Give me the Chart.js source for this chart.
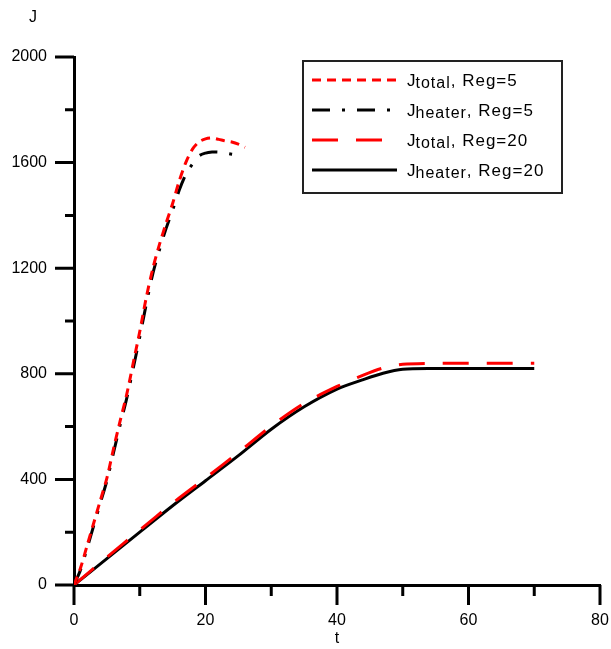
<!DOCTYPE html>
<html>
<head>
<meta charset="utf-8">
<script src="https://cdn.jsdelivr.net/npm/chart.js@4"></script>
<style>
  body { margin: 0; background: #fff; }
  #wrap { width: 611px; height: 649px; }
</style>
</head>
<body>
<div id="wrap"><canvas id="chart" width="611" height="649"></canvas></div>
<script>
// Reg=5 curves
const tTotal5 = [0, 1, 2, 3, 4, 5, 6, 7, 8, 9, 10, 11, 12, 13, 14, 15, 16, 17, 18, 19, 20, 21, 22, 23, 24, 25, 26];
const jTotal5 = [0, 65, 150, 235, 320, 405, 515, 620, 720, 840, 960, 1090, 1200, 1290, 1370, 1445, 1530, 1600, 1650, 1678, 1690, 1693, 1688, 1682, 1678, 1670, 1658];
const tHeater5 = [0, 1, 2, 3, 4, 5, 6, 7, 8, 9, 10, 11, 12, 13, 14, 15, 16, 17, 17.6, 19, 20, 21, 22, 23, 24, 25, 25.6];
const jHeater5 = [0, 58, 140, 225, 310, 395, 500, 605, 705, 820, 940, 1065, 1180, 1270, 1350, 1420, 1495, 1555, 1580, 1625, 1636, 1640, 1640, 1636, 1632, 1628, 1622];
// Reg=20 curves
const tTotal20 = [0, 5, 10, 15, 20, 25, 30, 35, 40, 44, 47, 50, 55, 60, 65, 70];
const jTotal20 = [0, 105, 208, 310, 405, 502, 602, 688, 752, 795, 822, 836, 840, 840, 840, 840];
const tHeater20 = [0, 5, 10, 15, 20, 25, 30, 35, 40, 44, 47, 50, 55, 60, 65, 70];
const jHeater20 = [0, 100, 200, 300, 395, 490, 590, 675, 742, 778, 802, 817, 820, 820, 820, 820];

const xTicks = [0, 20, 40, 60, 80];
const yTicks = [0, 400, 800, 1200, 1600, 2000];

const pts = (ts, js) => ts.map((t, i) => ({ x: t, y: js[i] }));

const series = [
  { sub: 'total', reg: '5', color: '#ff0000', dash: [9, 6], data: pts(tTotal5, jTotal5) },
  { sub: 'heater', reg: '5', color: '#000000', dash: [18, 12, 3, 12], data: pts(tHeater5, jHeater5) },
  { sub: 'total', reg: '20', color: '#ff0000', dash: [26, 18], data: pts(tTotal20, jTotal20) },
  { sub: 'heater', reg: '20', color: '#000000', dash: [], data: pts(tHeater20, jHeater20) },
];

const FONT = '"Liberation Sans", Arial, sans-serif';

// ticks, axis names and the boxed legend
const decor = {
  id: 'decor',
  afterDraw(chart) {
    const ctx = chart.ctx;
    const xs = chart.scales.x, ys = chart.scales.y;
    const x0 = xs.getPixelForValue(0), y0 = ys.getPixelForValue(0);
    ctx.save();
    ctx.strokeStyle = '#000';
    ctx.lineWidth = 3;
    ctx.lineCap = 'butt';
    ctx.beginPath();
    for (let v = 0; v <= 2000; v += 200) {
      const y = ys.getPixelForValue(v);
      const len = v % 400 === 0 ? 19 : 9;
      ctx.moveTo(x0 - len, y);
      ctx.lineTo(x0, y);
    }
    for (let v = 0; v <= 80; v += 10) {
      const x = xs.getPixelForValue(v);
      const len = v % 20 === 0 ? 20 : 11;
      ctx.moveTo(x, y0);
      ctx.lineTo(x, y0 + len);
    }
    ctx.stroke();

    ctx.fillStyle = '#000';
    ctx.font = '16px ' + FONT;
    ctx.textAlign = 'center';
    ctx.textBaseline = 'middle';
    ctx.fillText('J', 33, 18);
    ctx.fillText('t', xs.getPixelForValue(40), 639);

    // legend
    const bx = 303, by = 61, bw = 259, bh = 132;
    ctx.lineWidth = 2;
    ctx.strokeStyle = '#222';
    ctx.strokeRect(bx, by, bw, bh);
    ctx.letterSpacing = '1px';
    series.forEach((s, i) => {
      const y = 80 + i * 30;
      ctx.strokeStyle = s.color;
      ctx.lineWidth = 3;
      ctx.setLineDash(s.dash);
      ctx.beginPath();
      ctx.moveTo(312, y);
      ctx.lineTo(397, y);
      ctx.stroke();
      ctx.setLineDash([]);
      ctx.textAlign = 'left';
      ctx.textBaseline = 'alphabetic';
      ctx.font = '17px ' + FONT;
      let x = 407;
      ctx.fillText('J', x, y + 6);
      x += ctx.measureText('J').width - 1;
      ctx.font = '16px ' + FONT;
      ctx.fillText(s.sub, x, y + 8);
      x += ctx.measureText(s.sub).width;
      ctx.font = '17px ' + FONT;
      ctx.fillText(', Reg=' + s.reg, x, y + 6);
    });
    ctx.restore();
  }
};

new Chart(document.getElementById('chart'), {
  type: 'line',
  data: {
    datasets: series.map(s => ({
      label: 'J' + s.sub + ', Reg=' + s.reg,
      data: s.data,
      borderColor: s.color,
      borderDash: s.dash,
      borderWidth: 3,
      pointRadius: 0,
      tension: 0.3,
      fill: false,
    })),
  },
  options: {
    responsive: false,
    animation: false,
    layout: { padding: { top: 57, right: 11, left: 0, bottom: 0 } },
    plugins: { legend: { display: false }, tooltip: { enabled: false } },
    scales: {
      x: {
        type: 'linear',
        min: 0,
        max: 80,
        afterBuildTicks: s => { s.ticks = xTicks.map(v => ({ value: v })); },
        afterFit: s => { s.height = 64; s.paddingLeft = 0; s.paddingRight = 0; },
        ticks: { color: '#000', font: { size: 16, family: FONT }, padding: 26, maxRotation: 0, callback: v => String(v) },
        grid: { display: true, drawOnChartArea: false, drawTicks: false },
        border: { color: '#000', width: 3 },
      },
      y: {
        min: 0,
        max: 2000,
        afterBuildTicks: s => { s.ticks = yTicks.map(v => ({ value: v })); },
        afterFit: s => { s.width = 74; s.paddingTop = 0; s.paddingBottom = 0; },
        ticks: { color: '#000', font: { size: 16, family: FONT }, padding: 27, callback: v => String(v) },
        grid: { display: true, drawOnChartArea: false, drawTicks: false },
        border: { color: '#000', width: 3 },
      },
    },
  },
  plugins: [decor],
});
</script>
</body>
</html>
